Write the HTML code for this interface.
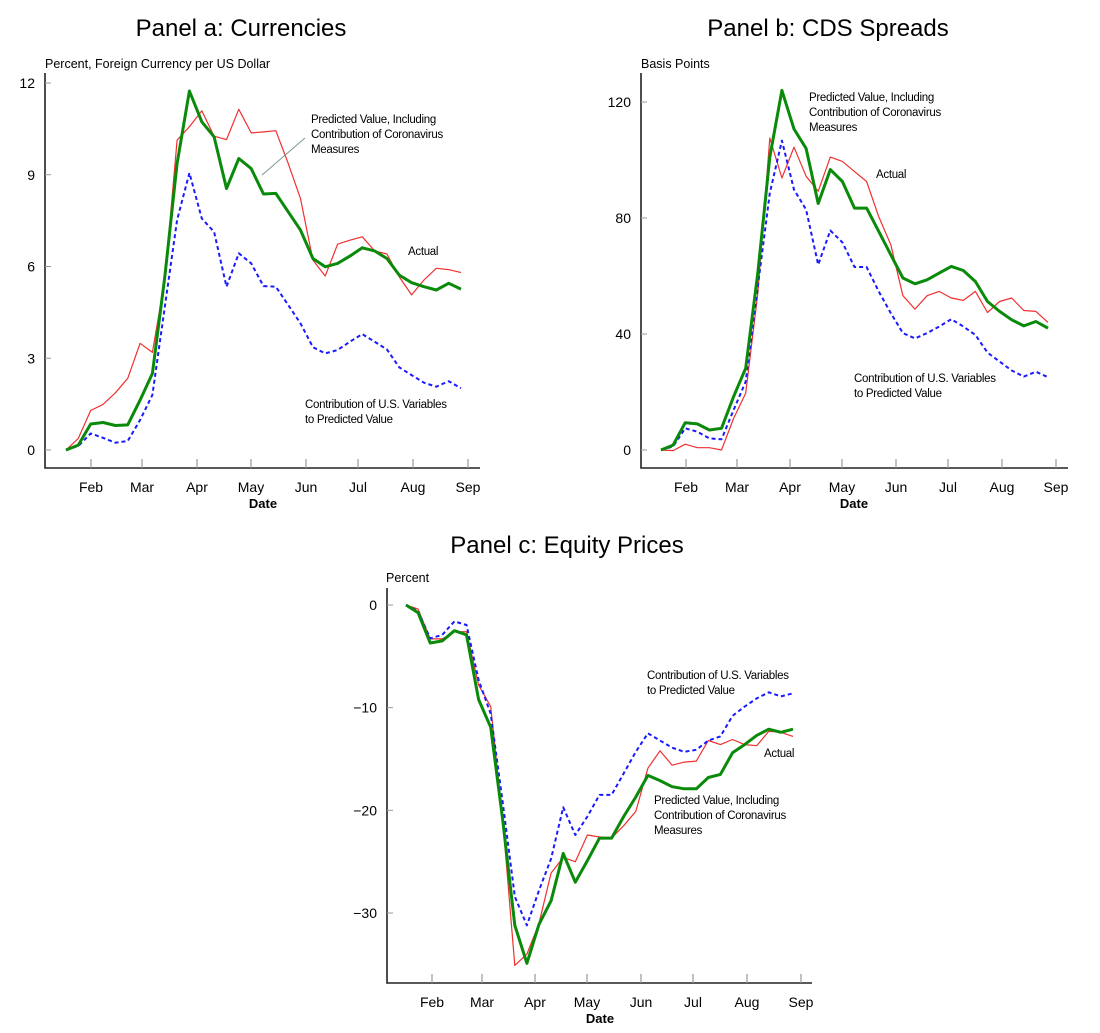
<!DOCTYPE html>
<html><head><meta charset="utf-8"><style>
body{margin:0;background:#fff;width:1100px;height:1033px;overflow:hidden}
svg{display:block}
text{font-family:"Liberation Sans",sans-serif}
</style></head><body>
<svg id="s" width="1100" height="1033"></svg>
<script>
const months=["Feb","Mar","Apr","May","Jun","Jul","Aug","Sep"];
const aActual=[0,0.38,1.29,1.49,1.87,2.34,3.49,3.19,5.56,10.13,10.57,11.09,10.26,10.15,11.14,10.37,10.40,10.44,9.37,8.22,6.21,5.69,6.73,6.86,6.97,6.51,6.41,5.66,5.07,5.56,5.94,5.90,5.80];
const aPred=[0,0.16,0.85,0.9,0.8,0.82,1.63,2.5,5.66,9.37,11.74,10.73,10.24,8.55,9.53,9.2,8.37,8.39,7.79,7.19,6.26,5.99,6.1,6.34,6.61,6.51,6.26,5.72,5.47,5.34,5.23,5.45,5.26];
const aUS=[0,0.13,0.54,0.4,0.24,0.29,0.98,1.8,4.68,7.52,9.06,7.57,7.13,5.34,6.43,6.1,5.36,5.34,4.74,4.14,3.36,3.16,3.27,3.54,3.79,3.54,3.29,2.7,2.45,2.2,2.07,2.25,2.02];
const aTicks=[0,3,6,9,12];
const bActual=[0,-0.2,2,0.8,0.8,0,10.9,19.6,54,107.6,93.8,104.4,94.4,89.2,101,99.5,96,92.6,80.5,70.8,53.2,48.6,53.2,54.7,52.4,51.6,54.7,47.4,51.2,52.4,48.1,47.8,44];
const bPred=[0,1.7,9.4,9.0,6.9,7.5,18.4,28.2,61,101,124,110.7,104,85,96.7,92.6,83.4,83.4,75.4,67.3,59.3,57.3,58.7,61,63.3,61.9,58.1,51.2,47.8,44.9,42.8,44.3,42];
const bUS=[0,1.2,7.5,6.3,4,3.7,13.8,23.6,56.4,88.6,106.7,89.8,82.9,63.9,75.7,71.6,63.1,63.1,54.7,47.2,40.3,38.5,40.3,42.6,45.1,42.6,39.7,33.6,30.5,27.4,25.3,27,25.1];
const bTicks=[0,40,80,120];
const cActual=[0,-0.4,-3.3,-3.3,-2.6,-2.6,-7.8,-9.9,-21,-35.1,-34,-31,-26.1,-24.6,-25,-22.4,-22.6,-22.7,-21.5,-20.1,-15.9,-14.2,-15.6,-15.3,-15.2,-13.2,-13.6,-13.1,-13.6,-13.7,-12.3,-12.4,-12.8];
const cPred=[0,-0.75,-3.7,-3.5,-2.5,-2.9,-9.2,-11.9,-21,-31.2,-34.9,-31.1,-28.8,-24.2,-27,-24.9,-22.7,-22.7,-20.6,-18.7,-16.6,-17.1,-17.7,-17.9,-17.9,-16.8,-16.5,-14.4,-13.6,-12.7,-12.1,-12.4,-12.1];
const cUS=[0,-0.6,-3.25,-2.9,-1.6,-1.95,-7.3,-10.6,-19.3,-28.4,-31.2,-27.8,-24.7,-19.7,-22.4,-20.6,-18.5,-18.5,-16.4,-14.3,-12.5,-13.2,-13.9,-14.3,-14.1,-13.2,-12.8,-10.8,-9.9,-9.1,-8.5,-8.9,-8.6];
const cTicks=[0,-10,-20,-30];

const NS="http://www.w3.org/2000/svg";
const svg=document.getElementById('s');
function mk(tag,attrs,parent,txt){const e=document.createElementNS(NS,tag);for(const k in attrs)e.setAttribute(k,attrs[k]);if(txt!==undefined)e.textContent=txt;(parent||svg).appendChild(e);return e;}

function panel(cfg){
  const g=mk('g',{});
  
  
  const t=mk('text',{x:cfg.tx,y:cfg.ty,'font-size':24,'text-anchor':'middle',fill:'#000'},g,cfg.title);
  
  
  const u=mk('text',{x:cfg.ux,y:cfg.uy,'font-size':12.5,fill:'#000'},g,cfg.unit);
  
  
  const ys=v=>cfg.y0+(v-cfg.v0)*(cfg.y1-cfg.y0)/(cfg.v1-cfg.v0);
  const xs=i=>cfg.px0+i*(cfg.px1-cfg.px0)/(cfg.n-1);
  const ax=mk('path',{d:`M${cfg.ax} ${cfg.atop}V${cfg.ay}H${cfg.aright}`,stroke:'#222','stroke-width':1.6,fill:'none'},g);
  
  
  cfg.ticks.forEach(v=>{
    const y=ys(v);
    mk('line',{x1:cfg.ax,x2:cfg.ax+6,y1:y,y2:y,stroke:'#999','stroke-width':1},g);
    const tl=mk('text',{x:cfg.ax-10,y:y+5,'font-size':14,'text-anchor':'end',fill:'#000'},g,v<0?'\u2212'+(-v):String(v));
    
    
  });
  months.forEach((m,i)=>{
    const x=cfg.mx[i];
    mk('line',{x1:x,x2:x,y1:cfg.ay,y2:cfg.ay-9,stroke:'#999','stroke-width':1.2},g);
    const ml=mk('text',{x:x,y:cfg.ay+24,'font-size':14,'text-anchor':'middle',fill:'#000'},g,m);
    
    
  });
  const dl=mk('text',{x:cfg.dx,y:cfg.ay+40,'font-size':13,'font-weight':'bold','text-anchor':'middle',fill:'#000'},g,'Date');
  
  
  const ser=[[cfg.actual,'#f03030',1.2,null,'actual-line'],[cfg.us,'#1a1aff',2,'4 3','us-contribution-line'],[cfg.pred,'#0a8a0a',3,null,'predicted-line']];
  ser.forEach(([d,c,w,da,nm])=>{
    const p=mk('polyline',{points:d.map((v,i)=>xs(i).toFixed(1)+','+ys(v).toFixed(1)).join(' '),fill:'none',stroke:c,'stroke-width':w,'stroke-linejoin':'round'},g);
    if(da)p.setAttribute('stroke-dasharray',da);
    
    
  });
  cfg.notes.forEach(([x,y,lines])=>{
    lines.forEach((l,k)=>{
      const tt=mk('text',{x:x,y:y+k*15,'font-size':11.5,'letter-spacing':'-0.3',fill:'#000'},g,l);
      
      
    });
  });
  if(cfg.leader){const L=mk('line',{x1:cfg.leader[0],y1:cfg.leader[1],x2:cfg.leader[2],y2:cfg.leader[3],stroke:'#7a9a8a','stroke-width':1},g);
    
    }
}
const PV=["Predicted Value, Including","Contribution of Coronavirus","Measures"];
const US=["Contribution of U.S. Variables","to Predicted Value"];
panel({id:'panel-a-currencies',title:'Panel a: Currencies',tx:241,ty:36,unit:'Percent, Foreign Currency per US Dollar',ux:45,uy:68,
 v0:0,v1:12,y0:450,y1:83,n:33,px0:66,px1:461,ax:45,atop:73,ay:468,aright:480,
 mx:[91,142,197,251,306,358,413,468],dx:263,ticks:aTicks,actual:aActual,pred:aPred,us:aUS,
 notes:[[311,123,PV],[408,255,['Actual']],[305,408,US]],leader:[305,138,262,175]});
panel({id:'panel-b-cds',title:'Panel b: CDS Spreads',tx:828,ty:36,unit:'Basis Points',ux:641,uy:68,
 v0:0,v1:120,y0:450,y1:102,n:33,px0:661,px1:1048,ax:641,atop:73,ay:468,aright:1068,
 mx:[686,737,790,842,896,948,1002,1056],dx:854,ticks:bTicks,actual:bActual,pred:bPred,us:bUS,
 notes:[[809,101,PV],[876,178,['Actual']],[854,382,US]]});
panel({id:'panel-c-equity',title:'Panel c: Equity Prices',tx:567,ty:553,unit:'Percent',ux:386,uy:582,
 v0:0,v1:-30,y0:605,y1:913,n:33,px0:406,px1:793,ax:387,atop:588,ay:983,aright:812,
 mx:[432,482,535,587,641,693,747,801],dx:600,ticks:cTicks,actual:cActual,pred:cPred,us:cUS,
 notes:[[647,679,US],[764,757,['Actual']],[654,804,PV]]});
</script>
</body></html>
